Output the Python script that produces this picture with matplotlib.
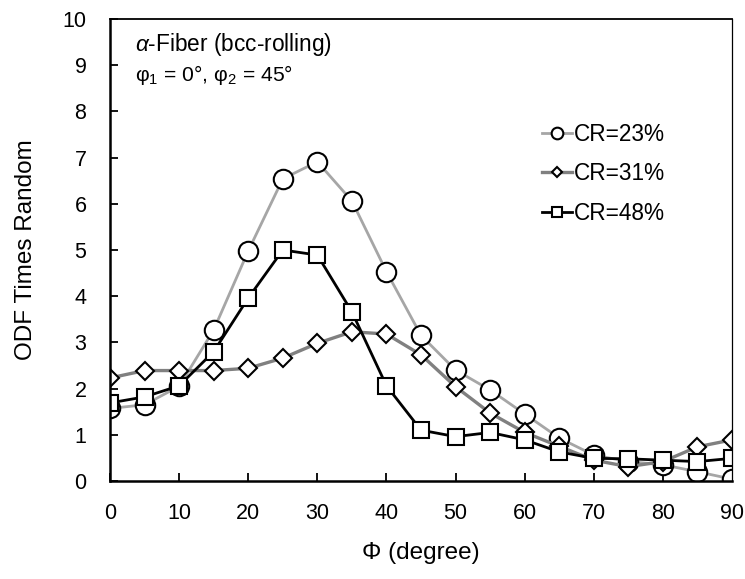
import matplotlib
matplotlib.use("Agg")
import matplotlib.pyplot as plt

plt.rcParams["font.family"] = ["Liberation Sans", "DejaVu Sans"]
plt.rcParams["mathtext.fontset"] = "custom"
plt.rcParams["mathtext.rm"] = "Liberation Sans"
plt.rcParams["mathtext.it"] = "Liberation Sans:italic"

# ── data ───────────────────────────────────────────────────────────────────
phi = [0, 5, 10, 15, 20, 25, 30, 35, 40, 45, 50, 55, 60, 65, 70, 75, 80, 85, 90]

cr23 = [1.57, 1.65, 2.05, 3.27, 4.98, 6.54, 6.91, 6.06, 4.53, 3.15, 2.40, 1.97,
        1.45, 0.93, 0.56, 0.42, 0.35, 0.20, 0.04]
cr31 = [2.23, 2.39, 2.39, 2.39, 2.44, 2.66, 2.98, 3.23, 3.18, 2.73, 2.04, 1.47,
        1.05, 0.75, 0.45, 0.31, 0.42, 0.74, 0.89]
cr48 = [1.69, 1.82, 2.06, 2.80, 3.96, 5.00, 4.89, 3.66, 2.06, 1.10, 0.96, 1.05,
        0.89, 0.63, 0.49, 0.48, 0.45, 0.42, 0.49]

labels = ["CR=23%", "CR=31%", "CR=48%"]

fig = plt.figure(figsize=(7.45, 5.79), dpi=100)
ax = fig.add_axes([0.1477, 0.1693, 0.8349, 0.7979])

mk = dict(markerfacecolor="white", markeredgecolor="black", markeredgewidth=1.5)
ax.plot(phi, cr23, color="#a6a6a6", lw=2.0, marker="o", ms=14, label=labels[0], **mk)
ax.plot(phi, cr31, color="#808080", lw=2.4, marker="D", ms=8.7, label=labels[1], **mk)
ax.plot(phi, cr48, color="black", lw=2.0, marker="s", ms=11.5, label=labels[2], **mk)

ax.set_xlim(0, 90)
ax.set_ylim(0, 10)
ax.set_xticks(range(0, 91, 10))
ax.set_yticks(range(0, 11))
ax.tick_params(direction="in", length=6, width=1.3, labelsize=15.5)
ax.tick_params(axis="y", pad=17)
ax.tick_params(axis="x", pad=16)

for side, w in (("left", 1.8), ("bottom", 1.8), ("top", 1.3), ("right", 0.9)):
    ax.spines[side].set_linewidth(w)

ax.set_xlabel("Φ (degree)", fontsize=17.5, labelpad=13)
ax.set_ylabel("ODF Times Random", fontsize=17.5, labelpad=18)

ax.text(0.04, 0.944, r"$\it{\alpha}$-Fiber (bcc-rolling)", transform=ax.transAxes,
        fontsize=16.3, va="center", ha="left")
ax.text(0.04, 0.879, r"φ$_1$ = 0°, φ$_2$ = 45°", transform=ax.transAxes,
        fontsize=15.2, va="center", ha="left")

ax.legend(loc="upper left", bbox_to_anchor=(0.695, 0.775), frameon=False,
          fontsize=16.3, handlelength=1.3, handletextpad=0.1, markerscale=0.6,
          labelspacing=0.72, borderpad=0, borderaxespad=0)

fig.savefig("out.png", dpi=100)
